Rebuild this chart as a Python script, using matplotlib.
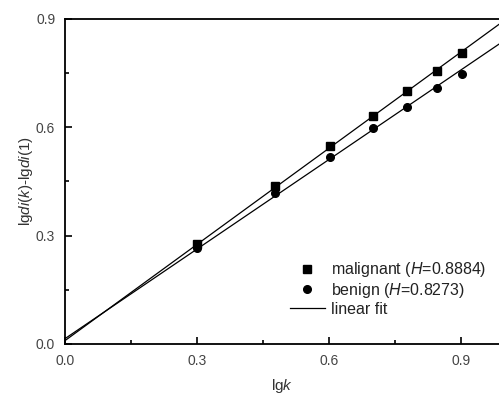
import numpy as np
import matplotlib
matplotlib.use("Agg")
import matplotlib.pyplot as plt
from matplotlib.ticker import MultipleLocator, FormatStrFormatter

plt.rcParams['font.family'] = ['Liberation Sans', 'DejaVu Sans']
plt.rcParams['mathtext.fontset'] = 'custom'
plt.rcParams['mathtext.rm'] = 'Liberation Sans'
plt.rcParams['mathtext.it'] = 'Liberation Sans:italic'

# lg k for k = 2..8
lgk = [0.301, 0.477, 0.602, 0.699, 0.778, 0.845, 0.903]
malignant = [0.278, 0.436, 0.547, 0.631, 0.700, 0.756, 0.806]
benign = [0.267, 0.417, 0.519, 0.597, 0.656, 0.708, 0.747]
H_malignant = 0.8884
H_benign = 0.8273
fit_x = [0.0, 0.986]

fig = plt.figure(figsize=(4.99, 3.94), dpi=100)
ax = fig.add_axes([0.130, 0.127, 0.870, 0.825])

x = np.array(lgk)
fx = np.array(fit_x)
b_m = np.mean(np.array(malignant) - H_malignant * x)
b_b = np.mean(np.array(benign) - H_benign * x)

ax.plot(lgk, malignant, 's', color='black', ms=5.5, label='malignant ($\\mathit{H}$=0.8884)')
ax.plot(lgk, benign, 'o', color='black', ms=5.5, label='benign ($\\mathit{H}$=0.8273)')
ax.plot(fx, H_malignant * fx + b_m, '-', color='black', lw=0.9, label='linear fit')
ax.plot(fx, H_benign * fx + b_b, '-', color='black', lw=0.9)

ax.set_xlim(0, 0.986)
ax.set_ylim(0, 0.9)
ax.xaxis.set_major_locator(MultipleLocator(0.3))
ax.yaxis.set_major_locator(MultipleLocator(0.3))
ax.xaxis.set_minor_locator(MultipleLocator(0.15))
ax.yaxis.set_minor_locator(MultipleLocator(0.15))
ax.xaxis.set_major_formatter(FormatStrFormatter('%.1f'))
ax.yaxis.set_major_formatter(FormatStrFormatter('%.1f'))
ax.tick_params(which='both', direction='in', width=1.2, colors='black', labelcolor='#444444', labelsize=10)
ax.tick_params(which='major', length=5)
ax.tick_params(which='minor', length=3)
ax.tick_params(axis='x', pad=7)
ax.tick_params(axis='y', pad=7)
ax.spines['right'].set_visible(False)
for s in ['left', 'top', 'bottom']:
    ax.spines[s].set_linewidth(1.3)

ax.set_xlabel('lg$\\mathit{k}$', fontsize=11, color='#333333', labelpad=7)
ax.set_ylabel('lg$\\mathit{di}$($\\mathit{k}$)-lg$\\mathit{di}$(1)', fontsize=11, color='#333333', labelpad=1)

ax.legend(loc='lower right', bbox_to_anchor=(1.005, 0.04), frameon=False, fontsize=11.5,
          handlelength=2.2, handletextpad=0.4, labelspacing=0.1, labelcolor='#222222')

fig.savefig('out.png', dpi=100)
